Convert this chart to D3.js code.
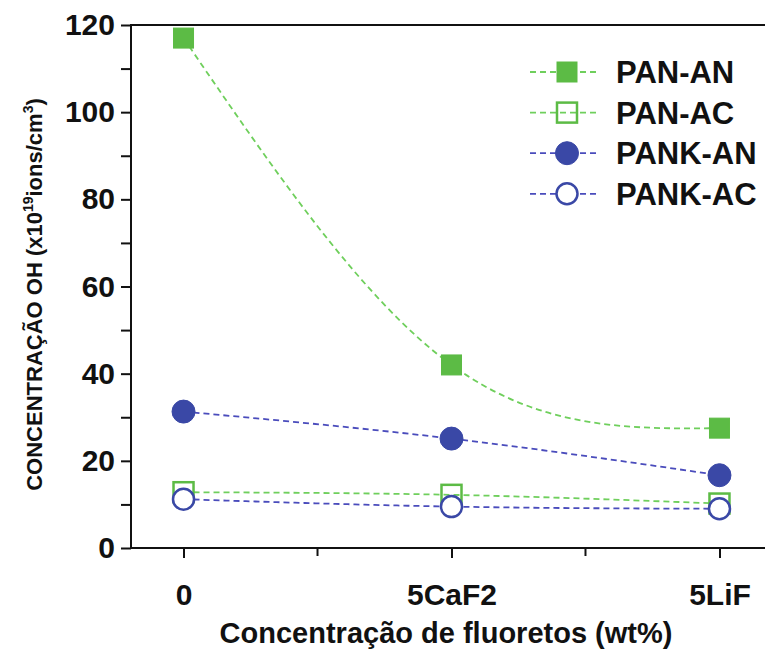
<!DOCTYPE html>
<html>
<head>
<meta charset="utf-8">
<script src="https://cdn.jsdelivr.net/npm/d3@7"></script>
<style>
  body { margin: 0; background: #fff; }
  svg { display: block; font-family: "Liberation Sans", Arial, sans-serif; }
</style>
</head>
<body>
<div id="chart"></div>
<script>
const categories = ['0', '5CaF2', '5LiF'];
const panAN = [117, 42, 27.5];
const panAC = [12.8, 12.2, 10.2];
const pankAN = [31.3, 25.1, 16.7];
const pankAC = [11.2, 9.5, 9.0];
const yTicks = [0, 20, 40, 60, 80, 100, 120];
const yMinor = [10, 30, 50, 70, 90, 110];

const green = '#5cbb45';
const greenLine = '#6fcf5c';
const blue = '#3a48a6';
const blueLine = '#4a4cbc';

const series = [
  { name: 'PAN-AN', values: panAN, shape: 'square', filled: true, color: green, line: greenLine },
  { name: 'PAN-AC', values: panAC, shape: 'square', filled: false, color: green, line: greenLine },
  { name: 'PANK-AN', values: pankAN, shape: 'circle', filled: true, color: blue, line: blueLine },
  { name: 'PANK-AC', values: pankAC, shape: 'circle', filled: false, color: blue, line: blueLine },
];

const width = 765, height = 650;
const margin = { top: 25, right: -7, bottom: 102, left: 131 };
const iw = width - margin.left - margin.right;
const ih = height - margin.top - margin.bottom;

const svg = d3.select('#chart').append('svg').attr('width', width).attr('height', height);
const g = svg.append('g').attr('transform', `translate(${margin.left},${margin.top})`);

const x = d3.scalePoint().domain(categories).range([0, iw]).padding(0.196);
const y = d3.scaleLinear().domain([0, 120]).range([ih, 0]);

// frame
g.append('rect').attr('width', iw).attr('height', ih)
  .attr('fill', 'none').attr('stroke', '#111').attr('stroke-width', 2);

// y axis
const yAxis = g.append('g').call(d3.axisLeft(y).tickValues(yTicks).tickSize(10).tickPadding(6));
yAxis.select('.domain').remove();
yAxis.selectAll('.tick line').attr('stroke', '#111').attr('stroke-width', 2);
yAxis.selectAll('.tick text').attr('font-size', 30).attr('font-weight', 'bold').attr('fill', '#111')
  .attr('font-family', '"Liberation Sans", Arial, sans-serif');
g.append('g').call(d3.axisLeft(y).tickValues(yMinor).tickSize(10).tickFormat(''))
  .call(a => a.select('.domain').remove())
  .selectAll('.tick line').attr('stroke', '#111').attr('stroke-width', 2);

// x axis
const xAxis = g.append('g').attr('transform', `translate(0,${ih})`)
  .call(d3.axisBottom(x).tickSize(10).tickPadding(26));
xAxis.select('.domain').remove();
xAxis.selectAll('.tick line').attr('stroke', '#111').attr('stroke-width', 2);
xAxis.selectAll('.tick text').attr('font-size', 30).attr('font-weight', 'bold').attr('fill', '#111')
  .attr('font-family', '"Liberation Sans", Arial, sans-serif');
const step = x.step();
g.append('g').attr('transform', `translate(0,${ih})`)
  .selectAll('line').data(categories.slice(0, -1)).join('line')
  .attr('x1', d => x(d) + step / 2).attr('x2', d => x(d) + step / 2)
  .attr('y1', 0).attr('y2', 8).attr('stroke', '#111').attr('stroke-width', 2);

// titles
svg.append('text')
  .attr('x', 446).attr('y', 643)
  .attr('text-anchor', 'middle').attr('font-size', 29).attr('font-weight', 'bold').attr('fill', '#111')
  .text('Concentração de fluoretos (wt%)');

const yt = svg.append('text')
  .attr('transform', `translate(42,${margin.top + ih / 2 + 8}) rotate(-90)`)
  .attr('text-anchor', 'middle').attr('font-size', 22).attr('font-weight', 'bold').attr('fill', '#111');
yt.append('tspan').text('CONCENTRAÇÃO OH (x10');
yt.append('tspan').attr('font-size', 14).attr('dy', -9).text('19');
yt.append('tspan').attr('dy', 9).text('ions/cm');
yt.append('tspan').attr('font-size', 14).attr('dy', -9).text('3');
yt.append('tspan').attr('dy', 9).text(')');

// lines
const line = d3.line().x((v, i) => x(categories[i])).y(v => y(v)).curve(d3.curveNatural);
const plot = g.append('g');
plot.selectAll('path.series').data(series).join('path')
  .attr('class', 'series')
  .attr('d', d => line(d.values))
  .attr('fill', 'none').attr('stroke', d => d.line).attr('stroke-width', 1.8)
  .attr('stroke-dasharray', '6,4');

function drawMarker(sel, s) {
  if (s.shape === 'square') {
    sel.append('rect').attr('x', -10).attr('y', -10).attr('width', 20).attr('height', 20)
      .attr('fill', s.filled ? s.color : 'none').attr('stroke', s.color).attr('stroke-width', s.filled ? 1 : 2.5);
  } else {
    sel.append('circle').attr('r', s.filled ? 11.5 : 10.5)
      .attr('fill', s.filled ? s.color : '#fff').attr('stroke', s.color).attr('stroke-width', s.filled ? 1 : 2.5);
  }
}

// draw in order so PANK-AC circle sits on top of PAN-AC squares
for (const s of series) {
  s.values.forEach((v, i) => {
    const m = plot.append('g').attr('transform', `translate(${x(categories[i])},${y(v)})`);
    drawMarker(m, s);
  });
}

// legend
const legend = svg.append('g').attr('transform', 'translate(530,72)');
series.forEach((s, i) => {
  const row = legend.append('g').attr('transform', `translate(0,${i * 40.6})`);
  row.append('line').attr('x1', 0).attr('x2', 68).attr('y1', 0).attr('y2', 0)
    .attr('stroke', s.line).attr('stroke-width', 1.8).attr('stroke-dasharray', '6,4');
  const m = row.append('g').attr('transform', 'translate(37,0)');
  drawMarker(m, s);
  row.append('text').attr('x', 86).attr('y', 11).attr('font-size', 31).attr('font-weight', 'bold')
    .attr('fill', '#111').text(s.name);
});
</script>
</body>
</html>
